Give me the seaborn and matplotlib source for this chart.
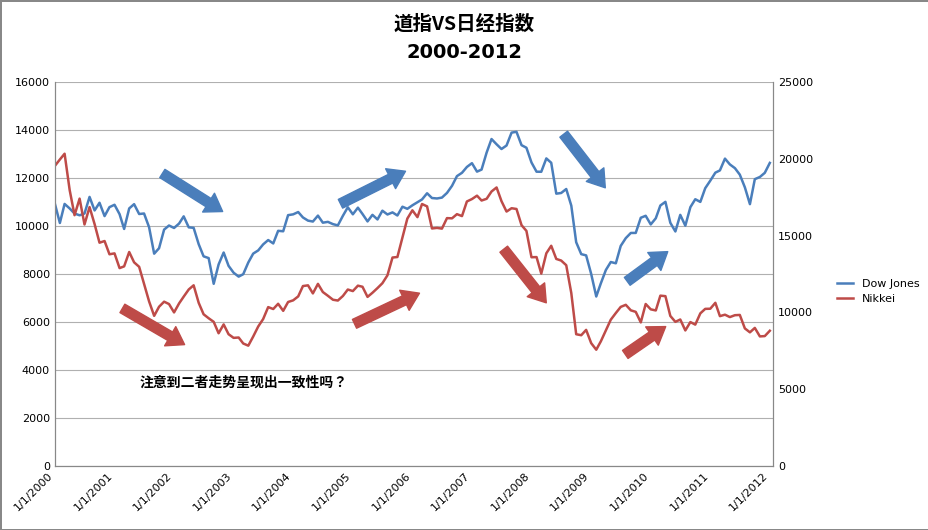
import matplotlib
matplotlib.use("Agg")
import matplotlib.pyplot as plt
from matplotlib import font_manager as fm
import seaborn as sns
import pandas as pd

dow = [10940,10128,10922,10734,10522,10448,10522,11215,10651,10971,10415,10788,
       10887,10495,9879,10735,10912,10502,10523,9950,8848,9075,9852,10022,
       9920,10106,10404,9946,9925,9243,8737,8664,7592,8397,8896,8342,
       8054,7891,7992,8480,8850,8985,9234,9416,9275,9801,9782,10454,
       10488,10584,10358,10226,10188,10435,10140,10174,10080,10027,10428,10783,
       10490,10766,10504,10193,10467,10275,10641,10482,10569,10440,10806,10718,
       10865,10993,11109,11367,11168,11150,11186,11381,11679,12081,12221,12463,
       12622,12269,12354,13063,13628,13409,13212,13358,13896,13930,13372,13265,
       12650,12266,12263,12820,12638,11350,11378,11544,10851,9325,8829,8776,
       8001,7063,7609,8168,8500,8447,9172,9496,9712,9713,10345,10428,
       10067,10325,10857,11009,10137,9774,10466,10015,10788,11118,11006,11578,
       11892,12226,12320,12811,12570,12414,12143,11614,10913,11955,12046,12218,
       12633]
nikkei = [19540,19960,20337,17974,16332,17411,15727,16861,15747,14539,14649,13786,
          13844,12884,12999,13934,13262,12969,11861,10714,9775,10367,10697,10543,
          9998,10588,11025,11493,11764,10622,9877,9619,9383,8640,9216,8579,
          8340,8363,7973,7831,8425,9083,9563,10344,10219,10560,10101,10677,
          10784,11042,11715,11762,11236,11858,11326,11082,10824,10771,11069,11489,
          11388,11741,11669,11009,11277,11584,11900,12414,13574,13607,14872,16111,
          16650,16205,17060,16906,15467,15505,15457,16141,16128,16399,16274,17226,
          17383,17604,17288,17400,17876,18138,17249,16569,16786,16737,15681,15308,
          13592,13603,12526,13850,14339,13482,13377,13073,11260,8577,8512,8860,
          7994,7568,8110,8828,9523,9958,10357,10493,10133,10035,9346,10546,
          10198,10126,11090,11057,9769,9383,9537,8824,9369,9202,9937,10229,
          10238,10624,9755,9850,9694,9816,9833,8955,8700,8988,8435,8455,
          8803]
dates = pd.date_range("2000-01-01", periods=len(dow), freq="MS")
tick_years = list(range(2000, 2013))
df = pd.DataFrame({"date": dates, "Dow Jones": dow, "Nikkei": nikkei})

cjk_files = [f for f in fm.findSystemFonts() if "CJK" in f and ("Bold" in f or "bold" in f)]
cjk_files += [f for f in fm.findSystemFonts() if "CJK" in f]
if cjk_files:
    cjk = fm.FontProperties(fname=sorted(cjk_files, key=lambda s: ("Bold" not in s, "SC" not in s))[0])
else:
    cjk = fm.FontProperties(family="Noto Sans CJK SC", weight="bold")

fig = plt.figure(figsize=(9.29, 5.30), dpi=100)
fig.patch.set_edgecolor("#888888"); fig.patch.set_linewidth(2)
ax = fig.add_axes([0.059, 0.121, 0.773, 0.724])
ax2 = ax.twinx()
blue, red = "#4a7ebb", "#be4b48"
sns.lineplot(data=df, x="date", y="Dow Jones", ax=ax, color=blue, lw=1.8, label="Dow Jones", legend=False)
sns.lineplot(data=df, x="date", y="Nikkei", ax=ax2, color=red, lw=1.8, label="Nikkei", legend=False)
ax.set_ylim(0, 16000); ax.set_yticks(range(0, 16001, 2000))
ax2.set_ylim(0, 25000); ax2.set_yticks(range(0, 25001, 5000))
ax.set_xlim(pd.Timestamp("2000-01-01"), pd.Timestamp("2012-01-20"))
ax.set_xticks([pd.Timestamp(f"{y}-01-01") for y in tick_years])
ax.set_xticklabels([f"1/1/{y}" for y in tick_years], rotation=45, ha="right", fontsize=8)
for a in (ax, ax2):
    a.set_xlabel(""); a.set_ylabel("")
    a.tick_params(labelsize=8, length=0)
    for s in a.spines.values(): s.set_color("#888888")
    a.spines["top"].set_visible(False)
ax.grid(axis="y", color="#b0b0b0", lw=0.8)
ax.set_axisbelow(True)
tp = cjk.copy(); tp.set_size(14); tp.set_weight("bold")
fig.text(0.5, 0.955, "道指VS日经指数", ha="center", va="center", fontproperties=tp)
fig.text(0.5, 0.9, "2000-2012", ha="center", va="center", fontsize=14, fontweight="bold")
np_ = cjk.copy(); np_.set_size(10); np_.set_weight("bold")
fig.text(140/929, 1-383/530, "注意到二者走势呈现出一致性吗？", fontproperties=np_, va="center")
h1, l1 = ax.get_legend_handles_labels(); h2, l2 = ax2.get_legend_handles_labels()
fig.legend(h1 + h2, l1 + l2, loc="center left", bbox_to_anchor=(0.89, 0.45), frameon=False, fontsize=8, handlelength=1.5)
arrows = [((160,172),(225,213),blue),((338,205),(408,170),blue),((562,132),(607,190),blue),((625,283),(670,250),blue),
          ((120,307),(187,346),red),((352,325),(422,292),red),((502,247),(548,305),red),((623,356),(668,325),red)]
for (x0,y0),(x1,y1),c in arrows:
    fig.add_artist(matplotlib.patches.FancyArrowPatch((x0/929, 1-y0/530), (x1/929, 1-y1/530), transform=fig.transFigure,
        arrowstyle="simple,head_width=1.6,head_length=1.2,tail_width=0.7", mutation_scale=10, color=c))
fig.savefig("out.png", dpi=100)
